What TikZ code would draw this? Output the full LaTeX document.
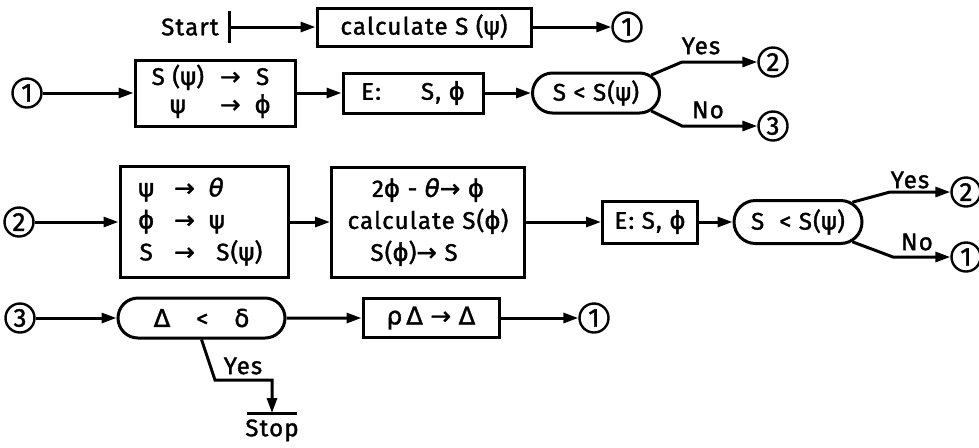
\documentclass[tikz,border=0pt]{standalone}
\usepackage{fontspec}
\setmainfont{Fira Sans}[LetterSpace=5,FakeBold=1.5]
\newfontfamily\gkfont{DejaVu Sans}[Scale=1.02,FakeBold=1.5]
\usetikzlibrary{arrows.meta,shapes.misc}
\newcommand\gpsi{{\gkfont ψ}}
\newcommand\gphi{{\gkfont ϕ}}
\newcommand\gtheta{{\gkfont\itshape θ}}
\newcommand\gDelta{{\gkfont Δ}}
\newcommand\gdelta{{\gkfont δ}}
\newcommand\grho{{\gkfont ρ}}
\newcommand\gto{{\gkfont →}}
\begin{document}
\begin{tikzpicture}[x=0.5pt,y=-0.5pt,font=\fontsize{12}{14}\selectfont,>={Triangle[length=7.5pt,width=5pt]}]
\tikzset{
  box/.style={draw,line width=1.5pt,inner sep=0pt,align=center},
  test/.style={draw,line width=1.5pt,rounded rectangle,inner sep=0pt,minimum height=20pt},
  conn/.style={draw,circle,line width=1.2pt,inner sep=0pt,minimum size=14.5pt,font=\fontsize{13}{14}\selectfont},
  arr/.style={->,line width=1.5pt},
  lbl/.style={inner sep=1pt}
}
\useasboundingbox (0,0) rectangle (979,447);

\node[lbl,anchor=east] (start) at (221,27) {Start};
\coordinate (bar) at (228,27);
\node[box,minimum width=107pt,minimum height=19pt] (calc) at (424,27) {calculate S (\gpsi)};
\node[conn] (c1a) at (627,27) {1};
\draw[arr,{Bar[width=16pt]}->] (bar) -- (calc);
\draw[arr] (calc) -- (c1a);

\node[conn] (c1b) at (27,93) {1};
\node[box,minimum width=80pt,minimum height=33pt] (setA) at (215,93) {
  \begin{tabular}{@{}c@{\hspace{8pt}}c@{\hspace{7pt}}c@{}}
  S (\gpsi) & \gto & S\\
  \gpsi & \gto & \gphi
  \end{tabular}
};
\node[box,minimum width=70pt,minimum height=20pt] (evalA) at (413,93) {E:\hspace{20pt}S, \gphi};
\node[test,minimum width=63.5pt] (testA) at (596,93) {S < S(\gpsi)};
\node[conn] (c2a) at (773,62) {2};
\node[conn] (c3a) at (773,126) {3};
\coordinate (ya) at (682,62);
\coordinate (na) at (682,126);
\draw[arr] (c1b) -- (setA);
\draw[arr] (setA) -- (evalA);
\draw[arr] (evalA) -- (testA);
\draw[arr] (testA.18) -- (ya) -- (c2a);
\draw[arr] (testA.-18) -- (na) -- (c3a);
\node[lbl] (yesA) at (701,46) {Yes};
\node[lbl] (noA) at (708,110) {No};

\node[conn] (c2b) at (19,222) {2};
\node[box,minimum width=84pt,minimum height=55.5pt] (setB) at (204,222) {
  \fontsize{12}{16}\selectfont
  \begin{tabular}{@{}c@{\hspace{10pt}}c@{\hspace{7pt}}l@{}}
  \gpsi & \gto & \gtheta\\
  \gphi & \gto & \gpsi\\
  S & \gto & \ S(\gpsi)
  \end{tabular}
};
\node[box,minimum width=96.5pt,minimum height=55pt,font=\fontsize{12}{16}\selectfont] (stepB) at (428,222) {
  2\gphi\ - \gtheta\gto\ \gphi\\
  calculate S(\gphi)\\
  S(\gphi)\gto\ S\hspace{14pt}
};
\node[box,minimum width=47.5pt,minimum height=21pt] (evalB) at (650,222) {E: S, \gphi};
\node[test,minimum width=64pt,minimum height=21.5pt] (testB) at (798,222) {S \ < S(\gpsi)};
\node[conn] (c2c) at (966,192) {2};
\node[conn] (c1c) at (966,257) {1};
\coordinate (yb) at (890,192);
\coordinate (nb) at (893,257);
\draw[arr] (c2b) -- (setB);
\draw[arr] (setB) -- (stepB);
\draw[arr] (stepB) -- (evalB);
\draw[arr] (evalB) -- (testB);
\draw[arr] (testB.20) -- (yb) -- (c2c);
\draw[arr] (testB.-20) -- (nb) -- (c1c);
\node[lbl] (yesB) at (910,180) {Yes};
\node[lbl] (noB) at (917,242) {No};

\node[conn] (c3b) at (20,318) {3};
\node[test,minimum width=83.5pt] (testC) at (201.5,318) {\gDelta\hspace{13pt}<\hspace{13pt}\gdelta};
\node[box,minimum width=68pt,minimum height=19.5pt] (shrink) at (431,318) {\grho\,\gDelta\ \gto\ \gDelta};
\node[conn] (c1d) at (594,318) {1};
\coordinate (k1) at (215,380);
\node[lbl,anchor=north,inner ysep=3pt] (stop) at (272,413) {Stop};
\draw[arr] (c3b) -- (testC);
\draw[arr] (testC) -- (shrink);
\draw[arr] (shrink) -- (c1d);
\draw[arr] (testC.south) -- (k1) -| (stop.north);
\draw[line width=1.5pt] ([xshift=-12.5pt]stop.north) -- ([xshift=12.5pt]stop.north);
\node[lbl] (yesC) at (243,366) {Yes};
\end{tikzpicture}
\end{document}
